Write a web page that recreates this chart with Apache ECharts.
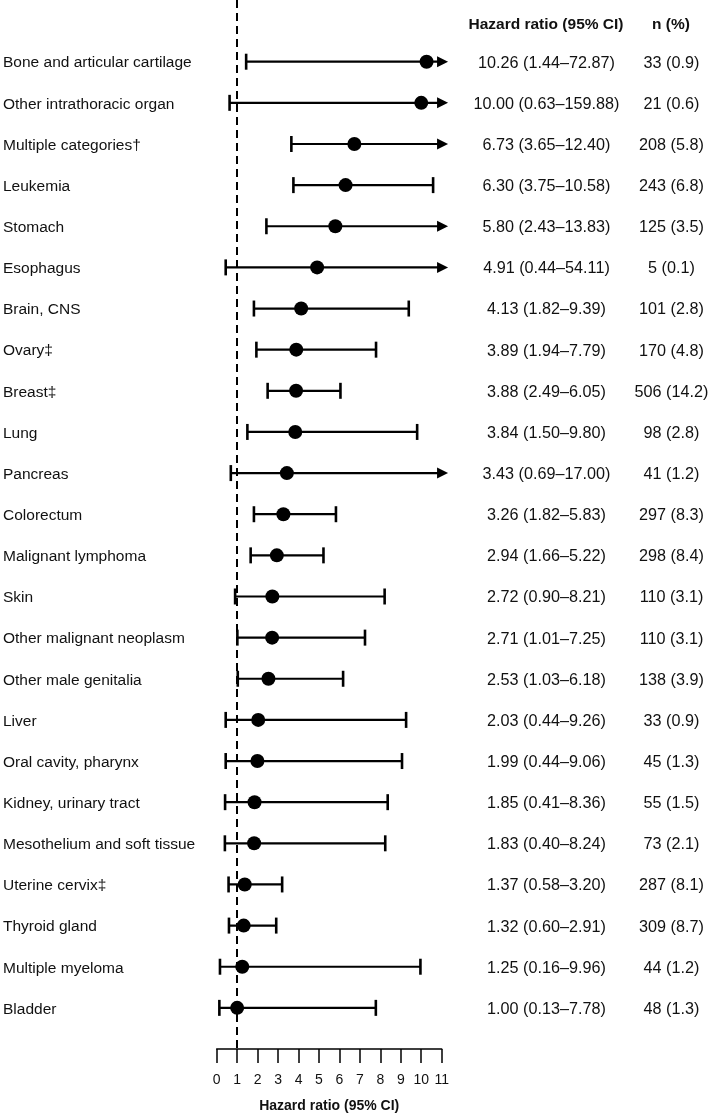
<!DOCTYPE html>
<html>
<head>
<meta charset="utf-8">
<script src="https://cdn.jsdelivr.net/npm/echarts@6/dist/echarts.min.js"></script>
<style>
html,body{margin:0;padding:0;background:#fff;}
#chart{width:709px;height:1115px;}
</style>
</head>
<body>
<div id="chart"></div>
<script>
const categories = ['Bone and articular cartilage','Other intrathoracic organ','Multiple categories\u2020','Leukemia','Stomach','Esophagus','Brain, CNS','Ovary\u2021','Breast\u2021','Lung','Pancreas','Colorectum','Malignant lymphoma','Skin','Other malignant neoplasm','Other male genitalia','Liver','Oral cavity, pharynx','Kidney, urinary tract','Mesothelium and soft tissue','Uterine cervix\u2021','Thyroid gland','Multiple myeloma','Bladder'];
const hr    = [10.26, 10.00, 6.73, 6.30, 5.80, 4.91, 4.13, 3.89, 3.88, 3.84, 3.43, 3.26, 2.94, 2.72, 2.71, 2.53, 2.03, 1.99, 1.85, 1.83, 1.37, 1.32, 1.25, 1.00];
const lower = [1.44, 0.63, 3.65, 3.75, 2.43, 0.44, 1.82, 1.94, 2.49, 1.50, 0.69, 1.82, 1.66, 0.90, 1.01, 1.03, 0.44, 0.44, 0.41, 0.40, 0.58, 0.60, 0.16, 0.13];
const upper = [72.87, 159.88, 12.40, 10.58, 13.83, 54.11, 9.39, 7.79, 6.05, 9.80, 17.00, 5.83, 5.22, 8.21, 7.25, 6.18, 9.26, 9.06, 8.36, 8.24, 3.20, 2.91, 9.96, 7.78];
const nCount = [33, 21, 208, 243, 125, 5, 101, 170, 506, 98, 41, 297, 298, 110, 110, 138, 33, 45, 55, 73, 287, 309, 44, 48];
const nPct = ['0.9','0.6','5.8','6.8','3.5','0.1','2.8','4.8','14.2','2.8','1.2','8.3','8.4','3.1','3.1','3.9','0.9','1.3','1.5','2.1','8.1','8.7','1.2','1.3'];
const xTicks = [0,1,2,3,4,5,6,7,8,9,10,11];
const refValue = 1;

const X_MAX = 11;
const ARROW_TIP = 11.31;
const FONT = 'Arial, "Liberation Sans", Helvetica, sans-serif';

const rows = categories.map((c, i) => [i, hr[i], lower[i], upper[i]]);
const points = categories.map((c, i) => [hr[i], i]);

const chart = echarts.init(document.getElementById('chart'));
chart.setOption({
  animation: false,
  backgroundColor: '#fff',
  grid: {left: 216.7, right: 267.3, top: 0, bottom: 66, outerBoundsMode: 'none', containLabel: false},
  xAxis: {
    type: 'value', min: xTicks[0], max: xTicks[xTicks.length - 1], interval: 1,
    position: 'bottom',
    axisLine: {show: true, onZero: false, lineStyle: {color: '#000', width: 1.5}},
    axisTick: {show: true, length: 14, lineStyle: {color: '#000', width: 1.5}},
    axisLabel: {margin: 24, color: '#111', fontSize: 14, fontFamily: FONT},
    splitLine: {show: false},
    name: 'Hazard ratio (95% CI)', nameLocation: 'middle', nameGap: 50,
    nameTextStyle: {color: '#111', fontSize: 14, fontWeight: 'bold', fontFamily: FONT}
  },
  yAxis: {
    type: 'value', inverse: true, min: -1.5, max: 24,
    show: false, splitLine: {show: false}
  },
  graphic: [
    {type: 'text', x: 546, y: 25, style: {text: 'Hazard ratio (95% CI)', align: 'center', verticalAlign: 'middle', fontSize: 15.5, fontWeight: 'bold', fontFamily: FONT, fill: '#111'}},
    {type: 'text', x: 671, y: 25, style: {text: 'n (%)', align: 'center', verticalAlign: 'middle', fontSize: 15.5, fontWeight: 'bold', fontFamily: FONT, fill: '#111'}}
  ],
  series: [
    {
      type: 'line', data: [], silent: true,
      markLine: {
        symbol: 'none', silent: true, label: {show: false},
        lineStyle: {color: '#000', type: [8, 5], width: 2},
        data: [{xAxis: refValue}]
      }
    },
    {
      type: 'custom',
      data: rows,
      encode: {x: [1, 2, 3], y: 0},
      clip: false,
      renderItem: function (params, api) {
        const i = api.value(0), h = api.value(1), lo = api.value(2), hi = api.value(3);
        const trunc = hi > X_MAX;
        const p0 = api.coord([lo, i]);
        const p1 = api.coord([trunc ? ARROW_TIP : hi, i]);
        const y = p0[1];
        const lineEnd = trunc ? p1[0] - 9 : p1[0];
        const st = {stroke: '#000', lineWidth: 2.2};
        const ch = [
          {type: 'line', shape: {x1: p0[0], y1: y, x2: lineEnd, y2: y}, style: st},
          {type: 'line', shape: {x1: p0[0], y1: y - 8, x2: p0[0], y2: y + 8}, style: {stroke: '#000', lineWidth: 2.6}}
        ];
        if (trunc) {
          ch.push({type: 'polygon', shape: {points: [[p1[0], y], [p1[0] - 11, y - 5.5], [p1[0] - 11, y + 5.5]]}, style: {fill: '#000'}});
        } else {
          ch.push({type: 'line', shape: {x1: p1[0], y1: y - 8, x2: p1[0], y2: y + 8}, style: {stroke: '#000', lineWidth: 2.6}});
        }
        const ty = y + 1.5;
        const ts = {fontFamily: FONT, fill: '#111', verticalAlign: 'middle'};
        ch.push({type: 'text', style: Object.assign({text: categories[i], x: 3, y: ty, align: 'left', fontSize: 15.5}, ts)});
        ch.push({type: 'text', style: Object.assign({text: h.toFixed(2) + ' (' + lo.toFixed(2) + '\u2013' + hi.toFixed(2) + ')', x: 546.5, y: ty, align: 'center', fontSize: 16.2}, ts)});
        ch.push({type: 'text', style: Object.assign({text: nCount[i] + ' (' + nPct[i] + ')', x: 671.5, y: ty, align: 'center', fontSize: 16.2}, ts)});
        return {type: 'group', children: ch};
      },
      z: 3
    },
    {
      type: 'scatter', data: points, symbol: 'circle', symbolSize: 14,
      itemStyle: {color: '#000', opacity: 1}, z: 5, silent: true
    }
  ]
});
</script>
</body>
</html>
